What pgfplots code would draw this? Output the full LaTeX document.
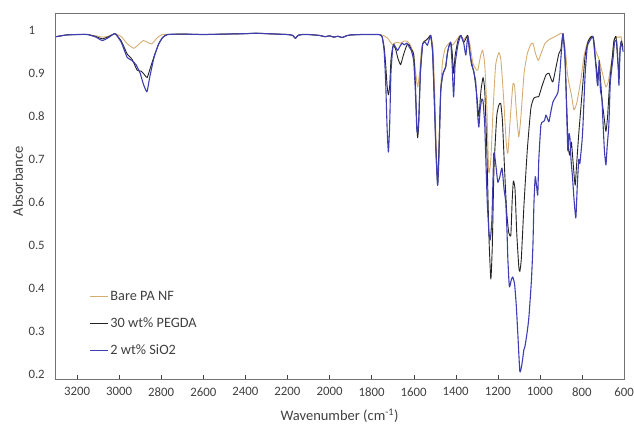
\documentclass[border=0pt]{standalone}
\usepackage{pgfplots}
\pgfplotsset{compat=1.18}
\usepackage{fontspec}
\setmainfont{Carlito}
\definecolor{tanc}{RGB}{214,172,112}
\definecolor{blk}{RGB}{35,35,35}
\definecolor{blu}{RGB}{62,62,178}
\definecolor{txt}{RGB}{64,64,64}
\begin{document}
\begin{tikzpicture}[x=1pt,y=1pt]
\path[use as bounding box] (-55,-44) rectangle (579,379);
\begin{axis}[
  at={(0,0)}, anchor=south west,
  scale only axis, width=569pt, height=366pt,
  x dir=reverse, xmin=600, xmax=3305, ymin=0.19, ymax=1.04,
  xtick={600,800,...,3200}, ytick={0.2,0.3,...,1.0},
  /pgf/number format/1000 sep={}, /pgf/number format/assume math mode=true,
  xtick pos=lower, tick align=inside, major tick length=4pt,
  ytick style={draw=none},
  axis line style={draw=black!55},
  xtick style={draw=black!75},
  tick label style={font=\fontsize{12.8}{14}\selectfont, text=txt},
  xticklabel style={yshift=-5pt},
  yticklabel style={anchor=west, xshift=-30pt},
  xlabel={Wavenumber (cm\textsuperscript{-1})},
  ylabel={Absorbance},
  label style={font=\fontsize{14.5}{16}\selectfont, text=txt},
  xlabel style={at={(axis description cs:0.5,0)}, anchor=center, yshift=-37pt},
  ylabel style={at={(axis description cs:-0.065,0.54)}, anchor=center},
  legend style={at={(axis description cs:0.06,0.246)}, anchor=north west, draw=none, fill=none,
    font=\fontsize{14.3}{16}\selectfont, text=txt, row sep=12pt, inner sep=0pt},
  legend image code/.code={\draw[#1] (0pt,0pt) -- (18pt,0pt);},
  legend cell align=left,
  every axis plot/.append style={smooth, tension=0.3, line join=round},
]
\addplot[color=tanc, line width=0.9pt] coordinates {
(3300,0.985)(3250,0.989)(3200,0.990)(3150,0.990)(3110,0.987)(3080,0.984)(3050,0.986)(3020,0.992)
(2990,0.985)(2960,0.968)(2930,0.958)(2905,0.968)(2885,0.976)(2865,0.972)(2845,0.968)(2820,0.982)
(2795,0.990)(2750,0.990)(2700,0.991)(2600,0.990)(2500,0.991)(2400,0.992)(2350,0.993)(2300,0.992)
(2250,0.991)(2200,0.990)(2175,0.988)(2162,0.981)(2150,0.988)(2130,0.990)(2100,0.990)(2050,0.988)
(2020,0.985)(2000,0.987)(1980,0.984)(1960,0.986)(1940,0.983)(1920,0.987)(1900,0.989)(1850,0.990)
(1800,0.990)(1765,0.990)(1745,0.988)(1725,0.982)(1710,0.972)(1698,0.966)(1690,0.970)(1680,0.972)
(1662,0.970)(1645,0.975)(1630,0.974)(1615,0.965)(1600,0.945)(1590,0.900)(1581,0.868)(1572,0.900)
(1562,0.960)(1550,0.975)(1535,0.978)(1519,0.988)(1508,0.960)(1500,0.860)(1492,0.720)(1486,0.660)
(1480,0.720)(1472,0.860)(1462,0.930)(1450,0.958)(1440,0.965)(1430,0.970)(1415,0.965)(1400,0.975)
(1385,0.985)(1376,0.988)(1362,0.978)(1343,0.988)(1330,0.960)(1319,0.925)(1305,0.910)(1295,0.907)
(1282,0.940)(1272,0.954)(1262,0.920)(1252,0.820)(1243,0.670)(1233,0.700)(1222,0.820)(1210,0.920)
(1195,0.948)(1185,0.930)(1172,0.840)(1160,0.740)(1152,0.714)(1140,0.800)(1128,0.875)(1120,0.870)
(1110,0.800)(1100,0.752)(1090,0.800)(1075,0.900)(1060,0.945)(1045,0.965)(1033,0.970)(1020,0.945)
(1008,0.930)(995,0.945)(975,0.970)(950,0.980)(933,0.984)(910,0.990)(895,0.993)(880,0.960)
(870,0.905)(862,0.877)(850,0.850)(838,0.815)(825,0.830)(815,0.856)(805,0.885)(790,0.940)
(775,0.970)(760,0.985)(748,0.985)(733,0.950)(720,0.935)(710,0.915)(700,0.895)(686,0.868)
(675,0.880)(665,0.910)(655,0.940)(648,0.977)(635,0.985)(625,0.983)(614,0.985)(605,0.955)
};
\addlegendentry{Bare PA NF}
\addplot[color=blk, line width=0.9pt] coordinates {
(3300,0.985)(3250,0.989)(3200,0.990)(3150,0.990)(3110,0.985)(3080,0.980)(3050,0.985)(3020,0.992)
(2990,0.975)(2962,0.945)(2938,0.932)(2914,0.907)(2895,0.905)(2880,0.897)(2867,0.890)(2850,0.915)
(2830,0.945)(2810,0.970)(2790,0.985)(2770,0.990)(2700,0.991)(2600,0.990)(2500,0.991)(2400,0.992)
(2350,0.993)(2300,0.992)(2250,0.991)(2200,0.990)(2175,0.988)(2162,0.981)(2150,0.988)(2130,0.990)
(2100,0.990)(2050,0.988)(2020,0.985)(2000,0.987)(1980,0.984)(1960,0.986)(1940,0.983)(1920,0.987)
(1900,0.989)(1850,0.990)(1800,0.990)(1765,0.990)(1750,0.985)(1740,0.960)(1733,0.920)(1726,0.870)
(1720,0.850)(1714,0.870)(1708,0.930)(1700,0.960)(1695,0.965)(1685,0.955)(1675,0.935)(1662,0.920)
(1650,0.940)(1638,0.958)(1629,0.968)(1620,0.965)(1610,0.954)(1600,0.945)(1592,0.880)(1585,0.780)
(1581,0.750)(1576,0.780)(1568,0.900)(1557,0.968)(1545,0.975)(1530,0.982)(1519,0.988)(1510,0.950)
(1502,0.840)(1494,0.720)(1486,0.640)(1480,0.720)(1471,0.860)(1460,0.900)(1448,0.914)(1440,0.945)
(1433,0.962)(1424,0.972)(1417,0.950)(1410,0.900)(1403,0.940)(1390,0.975)(1376,0.988)(1362,0.972)
(1350,0.982)(1343,0.988)(1335,0.960)(1325,0.920)(1314,0.905)(1300,0.850)(1290,0.800)(1280,0.860)
(1270,0.890)(1262,0.860)(1252,0.720)(1242,0.520)(1233,0.422)(1226,0.500)(1218,0.680)(1205,0.800)
(1195,0.826)(1186,0.830)(1178,0.790)(1168,0.680)(1158,0.580)(1148,0.530)(1138,0.524)(1132,0.600)
(1126,0.650)(1118,0.630)(1110,0.530)(1100,0.450)(1095,0.440)(1088,0.470)(1076,0.590)(1060,0.720)
(1043,0.818)(1029,0.842)(1015,0.845)(1005,0.846)(990,0.870)(971,0.896)(957,0.900)(945,0.885)
(938,0.880)(925,0.910)(910,0.945)(900,0.955)(890,0.992)(880,0.930)(872,0.820)(865,0.730)
(858,0.710)(850,0.740)(840,0.680)(832,0.640)(825,0.690)(815,0.760)(805,0.820)(795,0.880)
(785,0.940)(770,0.975)(755,0.985)(745,0.983)(735,0.930)(724,0.890)(716,0.915)(705,0.840)
(695,0.800)(686,0.765)(678,0.800)(668,0.880)(655,0.940)(648,0.975)(638,0.985)(630,0.930)
(624,0.900)(618,0.960)(612,0.975)(605,0.960)
};
\addlegendentry{30 wt\% PEGDA}
\addplot[color=blu, line width=1.1pt] coordinates {
(3300,0.985)(3250,0.989)(3200,0.990)(3150,0.990)(3110,0.984)(3080,0.976)(3050,0.983)(3020,0.992)
(2990,0.972)(2962,0.937)(2940,0.930)(2920,0.920)(2900,0.900)(2885,0.875)(2868,0.857)(2855,0.890)
(2835,0.935)(2815,0.965)(2795,0.982)(2770,0.990)(2700,0.991)(2600,0.990)(2500,0.991)(2400,0.992)
(2350,0.993)(2300,0.992)(2250,0.991)(2200,0.990)(2175,0.988)(2162,0.981)(2150,0.988)(2130,0.990)
(2100,0.990)(2050,0.988)(2020,0.985)(2000,0.987)(1980,0.984)(1960,0.986)(1940,0.983)(1920,0.987)
(1900,0.989)(1850,0.990)(1800,0.990)(1765,0.990)(1750,0.985)(1740,0.950)(1733,0.880)(1726,0.770)
(1720,0.717)(1714,0.780)(1708,0.900)(1700,0.955)(1695,0.968)(1685,0.960)(1676,0.953)(1668,0.960)
(1655,0.970)(1645,0.966)(1632,0.970)(1620,0.960)(1612,0.954)(1600,0.930)(1592,0.860)(1585,0.770)
(1581,0.764)(1576,0.790)(1568,0.900)(1557,0.968)(1545,0.972)(1535,0.965)(1525,0.980)(1519,0.988)
(1510,0.950)(1502,0.842)(1494,0.720)(1486,0.640)(1480,0.700)(1471,0.861)(1460,0.900)(1448,0.914)
(1440,0.945)(1433,0.961)(1424,0.972)(1417,0.920)(1410,0.845)(1403,0.920)(1390,0.965)(1376,0.988)
(1362,0.970)(1352,0.942)(1343,0.985)(1335,0.955)(1329,0.935)(1314,0.902)(1305,0.880)(1295,0.800)
(1290,0.775)(1283,0.820)(1276,0.840)(1270,0.835)(1262,0.780)(1257,0.703)(1250,0.600)(1242,0.530)
(1236,0.513)(1228,0.560)(1219,0.714)(1210,0.690)(1200,0.647)(1190,0.660)(1180,0.680)(1170,0.630)
(1162,0.600)(1156,0.530)(1152,0.467)(1145,0.404)(1136,0.420)(1129,0.427)(1120,0.410)(1112,0.360)
(1105,0.297)(1095,0.207)(1085,0.225)(1076,0.258)(1071,0.265)(1060,0.300)(1052,0.334)(1040,0.420)
(1033,0.500)(1028,0.600)(1022,0.660)(1016,0.640)(1010,0.617)(1005,0.700)(995,0.780)(986,0.787)
(978,0.790)(971,0.803)(964,0.795)(957,0.787)(948,0.810)(938,0.833)(925,0.845)(914,0.856)
(905,0.900)(900,0.935)(890,0.992)(880,0.930)(872,0.800)(867,0.720)(862,0.760)(857,0.750)
(852,0.700)(845,0.660)(838,0.610)(829,0.564)(822,0.640)(815,0.700)(810,0.690)(800,0.740)
(795,0.780)(785,0.896)(775,0.960)(767,0.972)(748,0.985)(740,0.950)(733,0.912)(728,0.880)
(724,0.872)(718,0.930)(712,0.860)(705,0.842)(700,0.787)(693,0.720)(686,0.687)(680,0.730)
(672,0.780)(665,0.880)(652,0.935)(645,0.972)(635,0.975)(628,0.920)(624,0.872)(619,0.950)
(614,0.972)(608,0.960)(604,0.950)
};
\addlegendentry{2 wt\% SiO2}
\end{axis}
\end{tikzpicture}
\end{document}
